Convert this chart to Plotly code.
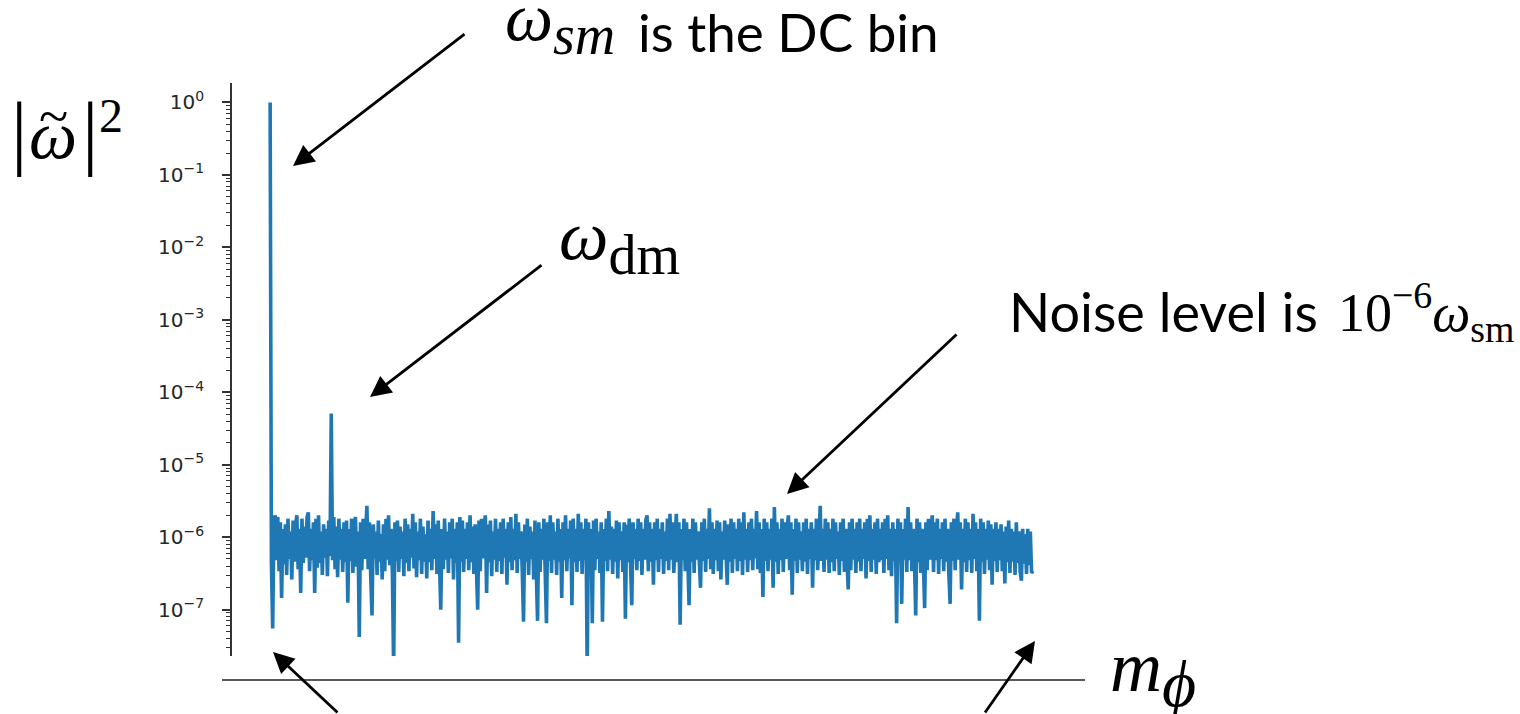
import plotly.graph_objects as go

# ---- data (|w~|^2 per azimuthal bin m) ----
power = [
    1.0, 4.5e-7, 5.5e-8, 1.7e-6, 2.0e-6, 4.8e-7, 1.9e-6, 3.4e-7, 1.6e-6, 1.45e-7,
    1.3e-6, 4.2e-7, 1.5e-6, 3.0e-7, 1.8e-6, 5.0e-7, 1.2e-6, 2.6e-7, 1.7e-6, 4.6e-7,
    1.5e-6, 2.0e-6, 3.6e-7, 1.3e-6, 1.7e-7, 1.8e-6, 4.4e-7, 1.4e-6, 5.2e-7, 1.9e-6,
    2.2e-6, 3.4e-7, 1.3e-6, 4.8e-7, 1.6e-6, 1.7e-7, 1.8e-6, 3.8e-7, 2.0e-6, 4.4e-7,
    1.2e-6, 3.0e-7, 1.5e-6, 5.2e-7, 1.3e-6, 2.9e-7, 1.7e-6, 5.5e-7, 5.1e-5, 4.8e-7,
    1.9e-6, 3.6e-7, 1.4e-6, 2.8e-7, 1.8e-6, 4.9e-7, 1.3e-6, 3.3e-7, 1.6e-6, 4.5e-7,
    1.7e-6, 1.25e-7, 1.3e-6, 4.7e-7, 1.8e-6, 3.2e-7, 1.5e-6, 1.9e-6, 3.9e-7, 1.2e-6,
    4.2e-8, 1.6e-6, 3.5e-7, 1.8e-6, 5.0e-7, 1.4e-6, 2.7e-6, 3.6e-7, 1.6e-6, 2.9e-7,
    8.3e-8, 1.5e-6, 5.1e-7, 1.2e-6, 3.0e-7, 1.7e-6, 4.6e-7, 1.1e-6, 2.6e-7, 1.5e-6,
    3.4e-7, 1.8e-6, 4.9e-7, 2.0e-6, 4.1e-7, 1.3e-6, 3.2e-7, 1.5e-8, 1.6e-6, 4.7e-7,
    1.7e-6, 3.3e-7, 1.4e-6, 5.0e-7, 1.2e-6, 2.9e-7, 1.8e-6, 4.4e-7, 1.5e-6, 3.4e-7,
    1.3e-6, 5.2e-7, 2.1e-6, 3.7e-7, 1.6e-6, 2.8e-7, 1.2e-6, 4.8e-7, 1.8e-6, 3.1e-7,
    1.4e-6, 4.6e-7, 1.1e-6, 2.7e-7, 1.7e-6, 4.5e-7, 1.3e-6, 3.5e-7, 2.3e-6, 5.0e-7,
    1.5e-6, 3.1e-7, 1.7e-6, 4.7e-7, 1.0e-7, 1.3e-6, 3.6e-7, 1.8e-6, 4.9e-7, 1.2e-6,
    3.2e-7, 1.6e-6, 5.1e-7, 1.8e-6, 2.6e-7, 1.3e-6, 4.4e-7, 1.6e-6, 3.5e-8, 1.9e-6,
    4.6e-7, 1.7e-6, 3.3e-7, 1.3e-6, 5.0e-7, 1.6e-6, 3.5e-7, 2.0e-6, 4.5e-7, 1.4e-6,
    3.1e-7, 1.5e-6, 4.8e-7, 1.0e-7, 1.7e-6, 3.4e-7, 1.8e-6, 5.1e-7, 1.3e-6, 2.0e-6,
    1.7e-7, 1.5e-6, 4.5e-7, 1.7e-6, 2.9e-7, 1.2e-6, 4.9e-7, 1.8e-6, 3.3e-7, 1.3e-6,
    4.7e-7, 1.6e-6, 3.1e-7, 1.8e-6, 5.2e-7, 1.3e-6, 2.2e-7, 1.6e-6, 4.5e-7, 1.9e-6,
    3.5e-7, 1.3e-6, 4.8e-7, 2.1e-6, 3.2e-7, 1.6e-6, 5.0e-7, 1.2e-6, 3.4e-7, 6.8e-8,
    1.5e-6, 4.6e-7, 1.8e-6, 3.0e-7, 1.4e-6, 5.0e-7, 1.2e-6, 2.6e-7, 1.7e-6, 4.4e-7,
    7.0e-8, 1.6e-6, 3.3e-7, 1.3e-6, 4.9e-7, 1.8e-6, 3.5e-7, 6.5e-8, 1.6e-6, 4.7e-7,
    2.0e-6, 3.2e-7, 1.6e-6, 4.9e-7, 1.2e-6, 3.0e-7, 1.8e-6, 4.6e-7, 1.3e-6, 1.45e-7,
    1.6e-6, 4.8e-7, 2.0e-6, 3.4e-7, 1.3e-6, 5.1e-7, 1.7e-6, 1.15e-7, 1.8e-6, 4.5e-7,
    1.3e-6, 3.3e-7, 2.1e-6, 4.7e-7, 1.6e-6, 3.1e-7, 1.3e-6, 4.9e-7, 1.8e-6, 1.5e-8,
    1.6e-6, 4.6e-7, 1.3e-6, 6.5e-8, 1.7e-6, 3.5e-7, 1.8e-6, 5.0e-7, 1.2e-6, 3.2e-7,
    1.6e-6, 6.8e-8, 1.3e-6, 4.7e-7, 1.8e-6, 3.4e-7, 2.3e-6, 4.9e-7, 1.4e-6, 3.1e-7,
    1.3e-6, 4.6e-7, 1.7e-6, 2.7e-7, 1.6e-6, 4.8e-7, 1.2e-6, 3.3e-7, 1.6e-6, 7.5e-8,
    1.5e-6, 4.5e-7, 1.8e-6, 3.2e-7, 1.15e-7, 1.6e-6, 5.0e-7, 1.3e-6, 3.5e-7, 1.8e-6,
    4.7e-7, 1.6e-6, 3.0e-7, 1.3e-6, 4.9e-7, 1.7e-6, 2.0e-6, 3.4e-7, 1.6e-6, 4.6e-7,
    1.3e-6, 2.2e-7, 1.6e-6, 4.8e-7, 1.8e-6, 3.3e-7, 1.3e-6, 5.0e-7, 1.6e-6, 3.1e-7,
    1.2e-6, 4.7e-7, 1.8e-6, 3.5e-7, 2.1e-6, 4.9e-7, 1.6e-6, 3.2e-7, 1.3e-6, 2.1e-6,
    4.5e-7, 1.6e-6, 6.2e-8, 1.3e-6, 4.8e-7, 1.8e-6, 3.4e-7, 1.6e-6, 5.0e-7, 1.15e-7,
    1.3e-6, 4.6e-7, 1.8e-6, 3.2e-7, 1.6e-6, 4.9e-7, 1.2e-6, 3.5e-7, 2.0e-7, 1.6e-6,
    4.7e-7, 1.8e-6, 3.3e-7, 1.3e-6, 5.0e-7, 2.5e-6, 3.6e-7, 1.6e-6, 3.1e-7, 1.3e-6,
    4.8e-7, 1.7e-6, 3.4e-7, 1.6e-6, 2.6e-7, 1.2e-6, 4.9e-7, 1.7e-6, 3.5e-7, 2.2e-7,
    1.5e-6, 4.6e-7, 1.8e-6, 3.2e-7, 1.6e-6, 5.0e-7, 1.3e-6, 3.4e-7, 1.8e-6, 4.7e-7,
    1.6e-6, 3.0e-7, 2.2e-6, 4.9e-7, 1.3e-6, 3.3e-7, 1.6e-6, 4.8e-7, 1.8e-6, 3.5e-7,
    1.3e-6, 5.1e-7, 2.3e-6, 3.6e-7, 1.6e-6, 3.2e-7, 1.3e-6, 1.5e-7, 1.8e-6, 4.7e-7,
    1.6e-6, 3.4e-7, 1.3e-6, 4.9e-7, 1.8e-6, 2.0e-7, 2.6e-6, 4.6e-7, 1.6e-6, 3.1e-7,
    1.3e-6, 4.8e-7, 1.8e-6, 3.3e-7, 1.6e-6, 5.0e-7, 1.3e-6, 2.0e-6, 3.5e-7, 1.6e-6,
    1.6e-7, 1.3e-6, 4.7e-7, 1.8e-6, 3.2e-7, 1.6e-6, 4.9e-7, 1.2e-6, 3.4e-7, 1.6e-6,
    4.6e-7, 1.8e-6, 3.1e-7, 1.3e-6, 5.0e-7, 1.6e-6, 2.0e-7, 1.3e-6, 4.8e-7, 1.8e-6,
    3.5e-7, 1.6e-6, 2.7e-6, 4.7e-7, 1.3e-6, 3.3e-7, 1.8e-6, 4.9e-7, 1.6e-6, 3.2e-7,
    1.3e-6, 4.5e-7, 1.8e-6, 3.4e-7, 1.6e-6, 5.0e-7, 1.2e-6, 3.0e-7, 1.6e-6, 4.7e-7,
    1.8e-6, 3.3e-7, 1.3e-6, 4.8e-7, 1.9e-7, 1.6e-6, 3.5e-7, 1.8e-6, 4.9e-7, 1.3e-6,
    3.2e-7, 1.6e-6, 4.6e-7, 1.8e-6, 3.4e-7, 1.3e-6, 5.0e-7, 1.6e-6, 2.7e-7, 1.8e-6,
    4.7e-7, 2.0e-6, 3.3e-7, 1.3e-6, 4.9e-7, 1.6e-6, 3.1e-7, 1.8e-6, 4.5e-7, 1.3e-6,
    4.8e-7, 1.6e-6, 3.2e-7, 1.8e-6, 5.0e-7, 2.0e-6, 3.5e-7, 1.3e-6, 2.9e-7, 1.6e-6,
    4.7e-7, 1.3e-6, 6.5e-8, 1.8e-6, 4.6e-7, 1.6e-6, 1.2e-7, 1.3e-6, 4.9e-7, 1.8e-6,
    3.3e-7, 2.6e-6, 4.8e-7, 1.6e-6, 3.4e-7, 1.3e-6, 5.0e-7, 8.3e-8, 1.8e-6, 4.5e-7,
    1.6e-6, 3.2e-7, 1.3e-6, 4.7e-7, 1.05e-7, 1.6e-6, 3.5e-7, 1.8e-6, 4.9e-7, 1.3e-6,
    2.0e-6, 3.3e-7, 1.6e-6, 4.8e-7, 1.8e-6, 3.1e-7, 1.3e-6, 5.0e-7, 1.6e-6, 3.4e-7,
    1.8e-6, 4.6e-7, 1.3e-6, 3.2e-7, 1.2e-7, 1.6e-6, 4.7e-7, 1.8e-6, 3.5e-7, 1.3e-6,
    2.2e-6, 4.9e-7, 1.6e-6, 1.9e-7, 1.3e-6, 4.5e-7, 1.8e-6, 3.3e-7, 1.6e-6, 4.8e-7,
    1.3e-6, 3.2e-7, 2.1e-6, 5.0e-7, 1.6e-6, 3.4e-7, 1.3e-6, 7.0e-8, 1.8e-6, 4.6e-7,
    1.6e-6, 3.1e-7, 1.3e-6, 4.9e-7, 1.7e-6, 3.5e-7, 1.5e-6, 2.2e-7, 1.3e-6, 4.7e-7,
    1.6e-6, 3.3e-7, 1.3e-6, 4.8e-7, 1.5e-6, 3.4e-7, 1.2e-6, 2.3e-7, 1.4e-6, 4.5e-7,
    1.7e-6, 3.2e-7, 1.3e-6, 4.6e-7, 1.2e-6, 3.0e-7, 1.6e-6, 4.4e-7, 1.2e-6, 3.4e-7,
    2.5e-7, 1.3e-6, 4.3e-7, 1.1e-6, 3.1e-7, 1.3e-6, 4.1e-7, 1.2e-6, 3.2e-7, 3.4e-7,
]
bins = list(range(len(power)))

tick_exponents = [0, -1, -2, -3, -4, -5, -6, -7]
tick_values = [10.0 ** e for e in tick_exponents]
tick_labels = ["10<sup>%s</sup>" % (str(e).replace("-", "\u2212")) for e in tick_exponents]
minor_values = [k * 10.0 ** e for e in range(-8, 1) for k in range(2, 10)]

# ---- layout geometry (pixels) ----
W, H = 1520, 714
L, R, T, B = 232, 1071, 83, 656


def px(x):
    return (x - L) / (R - L)


def py(y):
    return (B - y) / (B - T)


fig = go.Figure()
fig.add_trace(go.Scatter(x=bins, y=power, mode="lines",
                         line=dict(color="#1f77b4", width=3.6), hoverinfo="skip"))

n = len(power) - 1
fig.update_layout(
    template="none",
    width=W, height=H,
    margin=dict(l=L, r=W - R, t=T, b=H - B, pad=0),
    paper_bgcolor="white", plot_bgcolor="white",
    showlegend=False,
    xaxis=dict(visible=False, range=[-0.05 * n, 1.05 * n]),
    yaxis=dict(
        type="log", range=[-7.64, 0.268],
        showline=True, linecolor="#333333", linewidth=1.6,
        showgrid=False, zeroline=False,
        ticks="outside", ticklen=8, tickwidth=1.5, tickcolor="#333333",
        tickmode="array", tickvals=tick_values, ticktext=tick_labels,
        tickfont=dict(family="DejaVu Sans", size=20, color="#262626"),
        ticklabelstandoff=14,
        minor=dict(tickmode="array", tickvals=minor_values, ticks="outside",
                   ticklen=4.5, tickwidth=1.2, tickcolor="#333333"),
    ),
)

serif = "Liberation Serif"
sans = "Lato"

texts = [
    # (text, x, y, xanchor, family, size)
    ("|", 9, 131, "left", serif, 82),
    ("<i>\u03c9</i>", 53, 135, "center", serif, 68),
    ("|", 80, 131, "left", serif, 82),
    ("~", 53, 117, "center", serif, 54),
    ("2", 97, 115, "left", serif, 48),
    ("<i>\u03c9</i><sub><i><span style='font-size:56px'>sm</span></i></sub>",
     617, 23, "right", serif, 68),
    ("is the DC bin", 636, 32, "left", sans, 53),
    ("<i>\u03c9</i><sub><span style='font-size:56px'>dm</span></sub>",
     557, 241, "left", serif, 70),
    ("Noise level is", 1007, 311, "left", sans, 54),
    ("10<sup>\u22126</sup><i>\u03c9</i><sub>sm</sub>", 1336, 312, "left", serif, 54),
    ("<i>m</i><sub><i><span style='font-size:66px'>\u03d5</span></i></sub>",
     1108, 673, "left", serif, 72),
]
for t, x, y, xa, fam, sz in texts:
    fig.add_annotation(text=t, x=px(x), y=py(y), xref="paper", yref="paper",
                       xanchor=xa, yanchor="middle", showarrow=False,
                       font=dict(family=fam, size=sz, color="black"))

arrows = [
    # (tail_x, tail_y, head_x, head_y)
    (466, 33, 293, 166),
    (543, 264, 370, 397),
    (958, 333, 787, 494),
    (339, 716, 273, 652),
    (984, 716, 1035, 641),
]
for tx, ty, hx, hy in arrows:
    fig.add_annotation(text="", x=px(hx), y=py(hy), xref="paper", yref="paper",
                       ax=tx - hx, ay=ty - hy, axref="pixel", ayref="pixel",
                       showarrow=True, arrowhead=2, arrowsize=1.5, arrowwidth=2.8,
                       arrowcolor="black", standoff=0)

fig.add_shape(type="line", xref="paper", yref="paper",
              x0=px(222), x1=px(1085), y0=py(680), y1=py(680),
              line=dict(color="#222222", width=1.6))

fig.write_html("out.html", config={"displayModeBar": False},
               post_script="document.body.style.margin='0';document.body.style.overflow='hidden';")
